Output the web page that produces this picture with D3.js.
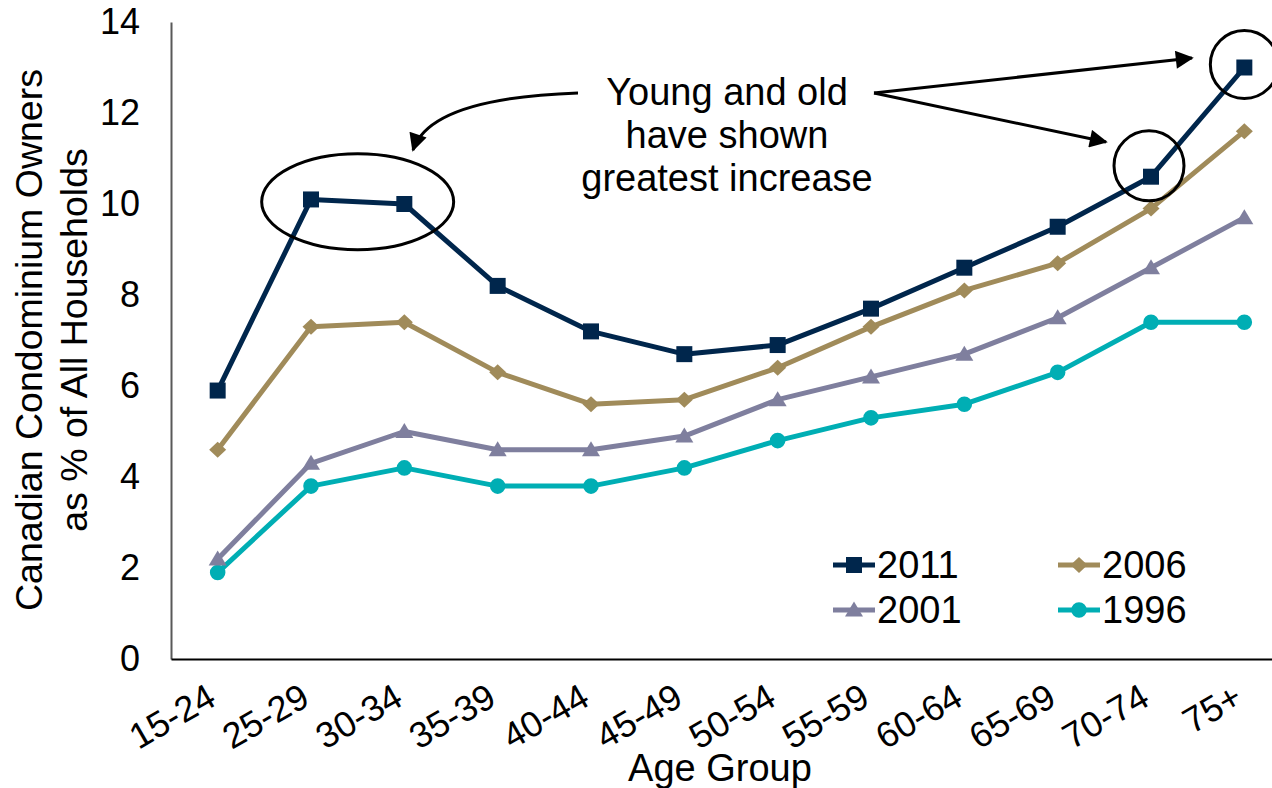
<!DOCTYPE html>
<html>
<head>
<meta charset="utf-8">
<script src="https://cdn.jsdelivr.net/npm/d3@7"></script>
<style>
  body { margin: 0; background: #ffffff; }
  svg { display: block; font-family: "Liberation Sans", Arial, sans-serif; }
</style>
</head>
<body>
<svg id="chart" width="1272" height="788"></svg>
<script>
// Condominium owners as a share of all households, by age group of the household maintainer
const ageGroups = ["15-24", "25-29", "30-34", "35-39", "40-44", "45-49",
                   "50-54", "55-59", "60-64", "65-69", "70-74", "75+"];
const values2011 = [5.9, 10.1, 10.0, 8.2, 7.2, 6.7, 6.9, 7.7, 8.6, 9.5, 10.6, 13.0];
const values2006 = [4.6, 7.3, 7.4, 6.3, 5.6, 5.7, 6.4, 7.3, 8.1, 8.7, 9.9, 11.6];
const values2001 = [2.2, 4.3, 5.0, 4.6, 4.6, 4.9, 5.7, 6.2, 6.7, 7.5, 8.6, 9.7];
const values1996 = [1.9, 3.8, 4.2, 3.8, 3.8, 4.2, 4.8, 5.3, 5.6, 6.3, 7.4, 7.4];
const yTickValues = [0, 2, 4, 6, 8, 10, 12, 14];
const seriesNames = ["2011", "2006", "2001", "1996"];
const seriesColors = ["#00264c", "#a08b5a", "#7f7f9e", "#00aeb4"];
const seriesMarkers = ["square", "diamond", "triangle", "circle"];
const calloutLines = ["Young and old", "have shown", "greatest increase"];

const series = [values2011, values2006, values2001, values1996].map((vals, i) => ({
  name: seriesNames[i], color: seriesColors[i], marker: seriesMarkers[i], values: vals
}));

const svg = d3.select("#chart");

const x = d3.scalePoint().domain(ageGroups).range([171, 1291]).padding(0.5);
const y = d3.scaleLinear().domain([0, 14]).range([659, 22]);

// marker shapes
function markerPath(type) {
  switch (type) {
    case "square":   return "M-8,-8H8V8H-8Z";
    case "diamond":  return "M0,-8L8.5,0L0,8L-8.5,0Z";
    case "triangle": return "M0,-8.5L9,6.5H-9Z";
    default:         return d3.symbol(d3.symbolCircle, 190)();
  }
}

// axes
const yAxis = svg.append("g")
  .attr("transform", "translate(171,0)")
  .call(d3.axisLeft(y).tickValues(yTickValues).tickSize(0).tickPadding(31).tickFormat(d3.format("d")));
yAxis.select(".domain").attr("stroke", "#595959").attr("stroke-width", 2);
yAxis.selectAll("text").attr("font-size", 36).attr("fill", "#000").attr("font-family", null);

const xAxis = svg.append("g")
  .attr("transform", "translate(0,659)")
  .call(d3.axisBottom(x).tickSize(0));
xAxis.select(".domain").attr("stroke", "#000").attr("stroke-width", 2);
xAxis.selectAll("text")
  .attr("font-size", 36).attr("fill", "#000").attr("font-family", null)
  .attr("text-anchor", "end")
  .attr("x", 0).attr("y", 0).attr("dy", 0)
  .attr("transform", "translate(0,45) rotate(-30)");

// axis titles
svg.append("text")
  .attr("transform", "translate(42,340) rotate(-90)")
  .attr("text-anchor", "middle").attr("font-size", 37.5)
  .text("Canadian Condominium Owners");
svg.append("text")
  .attr("transform", "translate(87,340) rotate(-90)")
  .attr("text-anchor", "middle").attr("font-size", 37.5)
  .text("as % of All Households");
svg.append("text")
  .attr("x", 720).attr("y", 781)
  .attr("text-anchor", "middle").attr("font-size", 38)
  .text("Age Group");

// series lines and markers (oldest first so 2011 sits on top)
const line = d3.line().x((d, i) => x(ageGroups[i])).y(d => y(d));
series.slice().reverse().forEach(s => {
  const g = svg.append("g");
  g.append("path")
    .attr("d", line(s.values))
    .attr("fill", "none").attr("stroke", s.color)
    .attr("stroke-width", 5).attr("stroke-linejoin", "round");
  g.selectAll("path.mk").data(s.values).join("path")
    .attr("class", "mk")
    .attr("d", markerPath(s.marker))
    .attr("fill", s.color)
    .attr("transform", (d, i) => `translate(${x(ageGroups[i])},${y(d)})`);
});

// legend
const legendPos = [[833, 565], [1058, 565], [833, 610], [1058, 610]];
series.forEach((s, i) => {
  const [lx, ly] = legendPos[i];
  const g = svg.append("g").attr("transform", `translate(${lx},${ly})`);
  g.append("line").attr("x1", 0).attr("x2", 42).attr("y1", 0).attr("y2", 0)
    .attr("stroke", s.color).attr("stroke-width", 5);
  g.append("path").attr("d", markerPath(s.marker)).attr("fill", s.color)
    .attr("transform", "translate(21,0)");
  g.append("text").attr("x", 44).attr("y", 13).attr("font-size", 38).text(s.name);
});

// callout: highlight rings, arrows and note
const defs = svg.append("defs");
defs.append("marker")
  .attr("id", "arrowhead")
  .attr("viewBox", "0 0 10 10").attr("refX", 9).attr("refY", 5)
  .attr("markerWidth", 7).attr("markerHeight", 6)
  .attr("markerUnits", "strokeWidth")
  .attr("orient", "auto")
  .append("path").attr("d", "M0,0L10,5L0,10Z").attr("fill", "#000");

const ringYoung = { cx: (x("25-29") + x("30-34")) / 2, cy: y(10.05), rx: 96, ry: 48 };
svg.append("ellipse")
  .attr("cx", ringYoung.cx).attr("cy", ringYoung.cy)
  .attr("rx", ringYoung.rx).attr("ry", ringYoung.ry)
  .attr("fill", "none").attr("stroke", "#000").attr("stroke-width", 3);
svg.append("circle")
  .attr("cx", x("70-74") - 2).attr("cy", y(10.6) - 11).attr("r", 35)
  .attr("fill", "none").attr("stroke", "#000").attr("stroke-width", 3);
svg.append("circle")
  .attr("cx", x("75+")).attr("cy", y(13.0) - 3).attr("r", 34)
  .attr("fill", "none").attr("stroke", "#000").attr("stroke-width", 3);

const arrows = svg.append("g").attr("fill", "none").attr("stroke", "#000").attr("stroke-width", 3);
arrows.append("path").attr("d", "M578,93Q430,98 413,150").attr("marker-end", "url(#arrowhead)");
arrows.append("path").attr("d", "M874,93L1192,58").attr("marker-end", "url(#arrowhead)");
arrows.append("path").attr("d", "M874,93L1106,142").attr("marker-end", "url(#arrowhead)");

svg.append("g").selectAll("text").data(calloutLines).join("text")
  .attr("x", 727).attr("y", (d, i) => 105 + i * 43)
  .attr("text-anchor", "middle").attr("font-size", 38)
  .text(d => d);
</script>
</body>
</html>
